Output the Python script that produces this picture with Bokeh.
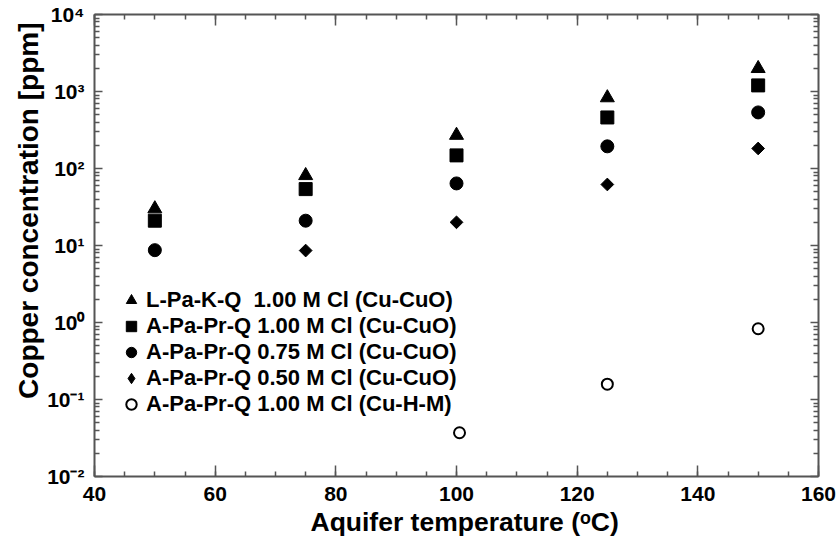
import math
from bokeh.plotting import figure
from bokeh.models import (LinearAxis, LogAxis, FixedTicker, Legend, LegendItem, Range1d,
                          CustomLabelingPolicy, Title)
from bokeh.embed import file_html
from bokeh.resources import INLINE

# ---- data ----
temps = [50, 75, 100, 125, 150]
lpakq_100 = [30, 81, 270, 830, 1990]          # triangle
apprq_100 = [21, 54, 148, 460, 1200]          # square
apprq_075 = [8.7, 21, 64, 194, 535]           # circle
apprq_050_t = [75, 100, 125, 150]
apprq_050 = [8.6, 20, 62, 182]                # diamond
cuhm_t = [100.5, 125, 150]
cuhm_100 = [0.037, 0.158, 0.83]               # open circle

labels = ["L-Pa-K-Q  1.00 M Cl (Cu-CuO)",
          "A-Pa-Pr-Q 1.00 M Cl (Cu-CuO)",
          "A-Pa-Pr-Q 0.75 M Cl (Cu-CuO)",
          "A-Pa-Pr-Q 0.50 M Cl (Cu-CuO)",
          "A-Pa-Pr-Q 1.00 M Cl (Cu-H-M)"]
x_title = "Aquifer temperature (\u1d52C)"
y_title = "Copper concentration [ppm]"

x_major = [40, 60, 80, 100, 120, 140, 160]
x_minor = list(range(40, 161, 5))
decades = [-2, -1, 0, 1, 2, 3, 4]
y_major = [10.0 ** d for d in decades]
y_minor = [m * 10.0 ** d for d in decades[:-1] for m in range(2, 10)]
sup = {"-": "\u207b", "0": "\u2070", "1": "\u00b9", "2": "\u00b2", "3": "\u00b3", "4": "\u2074"}
y_labels = {10.0 ** d: "10" + "".join(sup[c] for c in str(d)) for d in decades}

FONT = "Liberation Sans"
AX = "#555555"

p = figure(width=837, height=548, y_axis_type="log", output_backend="svg",
           toolbar_location=None, x_range=Range1d(40, 160), y_range=Range1d(0.01, 10000),
           min_border_left=94, min_border_right=19, min_border_top=14, min_border_bottom=72)
p.xgrid.visible = False
p.ygrid.visible = False
p.outline_line_color = None

r1 = p.scatter(temps, lpakq_100, marker="triangle", size=14, color="black")
r2 = p.scatter(temps, apprq_100, marker="square", size=13, color="black")
r3 = p.scatter(temps, apprq_075, marker="circle", size=13, color="black")
# legend glyph for the diamond series (legend ignores marker angle); hidden under r4
r4_leg = p.scatter(apprq_050_t, apprq_050, marker="diamond", size=9, color="black")
r4 = p.scatter(apprq_050_t, apprq_050, marker="square", size=9, angle=math.pi / 4,
               color="black")
r5 = p.scatter(cuhm_t, cuhm_100, marker="circle", size=11, fill_color="white",
               line_color="black", line_width=2)


def style(ax, show_labels):
    ax.axis_line_color = AX
    ax.axis_line_width = 2
    ax.major_tick_line_color = AX
    ax.minor_tick_line_color = AX
    ax.major_tick_line_width = 1.5
    ax.minor_tick_line_width = 1.5
    ax.major_tick_out = 0
    ax.minor_tick_out = 0
    ax.major_tick_in = 11
    ax.minor_tick_in = 5
    ax.major_label_text_font = FONT
    ax.major_label_text_font_style = "bold"
    ax.major_label_text_font_size = "21px"
    ax.major_label_text_color = "black"
    if not show_labels:
        ax.major_label_policy = CustomLabelingPolicy(code="return []")
        ax.major_label_text_font_size = "1px"
        ax.major_label_standoff = 0


xb = p.xaxis[0]
xb.ticker = FixedTicker(ticks=x_major, minor_ticks=x_minor)
style(xb, True)
xb.major_label_standoff = 10

yl = p.yaxis[0]
yl.ticker = FixedTicker(ticks=y_major, minor_ticks=y_minor)
yl.major_label_overrides = y_labels
style(yl, True)
yl.major_tick_in = 8
yl.major_label_standoff = 10

xt = LinearAxis(ticker=FixedTicker(ticks=x_major, minor_ticks=x_minor))
style(xt, False)
p.add_layout(xt, "above")
yr = LogAxis(ticker=FixedTicker(ticks=y_major, minor_ticks=y_minor))
style(yr, False)
yr.major_tick_in = 8
p.add_layout(yr, "right")

p.add_layout(Title(text=x_title, align="left", offset=216, text_font=FONT,
                   text_font_style="bold", text_font_size="26.5px", text_color="black",
                   standoff=2), "below")
p.add_layout(Title(text=y_title, align="right", offset=8, text_font=FONT,
                   text_font_style="bold", text_font_size="28px", text_color="black",
                   standoff=2), "left")

legend = Legend(items=[LegendItem(label=labels[0], renderers=[r1]),
                       LegendItem(label=labels[1], renderers=[r2]),
                       LegendItem(label=labels[2], renderers=[r3]),
                       LegendItem(label=labels[3], renderers=[r4_leg]),
                       LegendItem(label=labels[4], renderers=[r5])],
                location=(24, 59), border_line_color=None, background_fill_alpha=0,
                padding=0, margin=0, spacing=0, glyph_width=26, glyph_height=26,
                label_height=26, label_standoff=2,
                label_text_font=FONT, label_text_font_style="bold",
                label_text_font_size="22px", label_text_color="black")
p.add_layout(legend, "center")

open("out.html", "w").write(file_html(p, INLINE))
